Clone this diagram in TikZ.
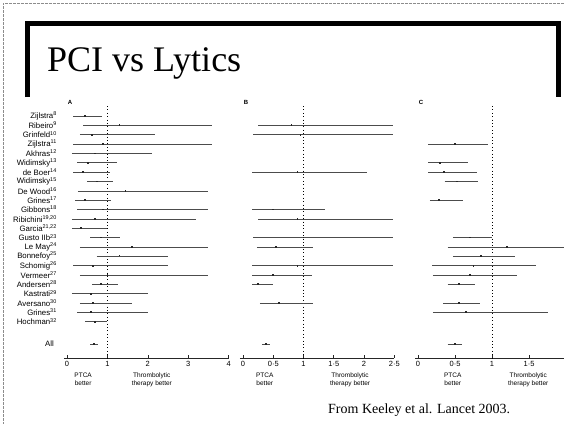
\documentclass[tikz,border=0pt]{standalone}
\usepackage{fontspec}
\setmainfont{Liberation Serif}
\setsansfont{Liberation Sans}
\tikzset{
  title/.style={font=\fontsize{36}{40}\selectfont, inner sep=0pt},
  source/.style={font=\fontsize{14}{16}\selectfont, inner sep=0pt},
  studylbl/.style={font=\sffamily\fontsize{7.8}{8.5}\selectfont, anchor=east, inner sep=0pt},
  panel/.style={font=\sffamily\bfseries\fontsize{6}{6.5}\selectfont, inner sep=0pt},
  ci/.style={black!70, line width=0.6pt},
  est/.style={fill=black!85, inner sep=0pt, minimum size=1.8pt},
  nullline/.style={black, line width=0.6pt, dash pattern=on 0.8pt off 2.6pt},
  axisln/.style={black!85, line width=0.6pt},
  ticklbl/.style={font=\sffamily\fontsize{7.5}{8}\selectfont, anchor=north, inner sep=0pt},
  favour/.style={font=\sffamily\fontsize{6.5}{7.4}\selectfont, align=center, anchor=north, inner sep=0pt},
  scanedge/.style={black!45, line width=0.5pt, dash pattern=on 3pt off 1pt},
}
\begin{document}
\begin{tikzpicture}[x=1pt, y=-1pt]
%\draw[step=20,gray,very thin] (0,0) grid (564,424);
\useasboundingbox (0,0) rectangle (564,424);
\fill[white] (0,0) rectangle (564,424);
\draw[scanedge] (564,3) -- (3,3) -- (3,424);
\draw[line width=5pt] (27.5,97) -- (27.5,23) -- (558.5,23) -- (558.5,97);
\node[title, anchor=base west] (title) at (47,71) {PCI vs Lytics};

% study names
\foreach \i/\nm in {0/{Zijlstra\textsuperscript{8}}, 1/{Ribeiro\textsuperscript{9}},
    2/{Grinfeld\textsuperscript{10}}, 3/{Zijlstra\textsuperscript{11}}, 4/{Akhras\textsuperscript{12}},
    5/{Widimsky\textsuperscript{13}}, 6/{de Boer\textsuperscript{14}}, 7/{Widimsky\textsuperscript{15}},
    8/{De Wood\textsuperscript{16}}, 9/{Grines\textsuperscript{17}}, 10/{Gibbons\textsuperscript{18}},
    11/{Ribichini\textsuperscript{19,20}}, 12/{Garcia\textsuperscript{21,22}}, 13/{Gusto IIb\textsuperscript{23}},
    14/{Le May\textsuperscript{24}}, 15/{Bonnefoy\textsuperscript{25}}, 16/{Schomig\textsuperscript{26}},
    17/{Vermeer\textsuperscript{27}}, 18/{Andersen\textsuperscript{28}}, 19/{Kastrati\textsuperscript{29}},
    20/{Aversano\textsuperscript{30}}, 21/{Grines\textsuperscript{31}}, 22/{Hochman\textsuperscript{32}}} {
  \node[studylbl] (nm\i) at (57,{116+9.35*\i}) {\nm};
}
\node[studylbl] (nmAll) at (54,344) {All};

\node[panel] (pa) at (70,102) {A};
\node[panel] (pb) at (246,102) {B};
\node[panel] (pc) at (421,102) {C};

% panel A
\begin{scope}[xshift=67pt, x=40.4pt]
\draw[axisln] (-0.08,358) -- (4,358);
\foreach \t in {0,...,4} {
  \draw[axisln] (\t,358) -- (\t,355);
  \node[ticklbl] (ta\t) at (\t,361) {\t};
}
\draw[nullline] (1,106) -- (1,358);
\foreach \i/\lo/\pt/\hi in {0/0.15/0.45/0.87, 1/0.40/1.30/3.60, 2/0.32/0.62/2.18,
    3/0.15/0.90/3.60, 4/0.12/0.70/2.10, 5/0.25/0.52/1.24, 6/0.15/0.40/1.06,
    7/0.50/0.75/1.14, 8/0.27/1.45/3.50, 9/0.20/0.45/1.10, 10/0.25/0.90/3.50,
    11/0.12/0.70/3.20, 12/0.12/0.35/1.00, 13/0.57/0.85/1.30, 14/0.32/1.60/3.50,
    15/0.74/1.30/2.50, 16/0.15/0.65/2.50, 17/0.32/1.00/3.50, 18/0.62/0.85/1.26,
    19/0.12/0.60/2.00, 20/0.32/0.65/1.60, 21/0.25/0.60/2.00, 22/0.45/0.70/1.00} {
  \draw[ci] (\lo,{116+9.35*\i}) -- (\hi,{116+9.35*\i});
  \node[est] (ea\i) at (\pt,{116+9.35*\i}) {};
}
\draw[ci, line width=1.4pt] (0.74,256.25) -- (2.5,256.25);
\draw[ci] (0.57,344) -- (0.77,344);
\node[est] (eaAll) at (0.66,344) {};
\node[favour] (fa1) at (0.4,373) {PTCA\\better};
\node[favour] (fa2) at (2.1,373) {Thrombolytic\\therapy better};
\end{scope}

% panel B
\begin{scope}[xshift=243pt, x=60.5pt]
\draw[axisln] (-0.05,358) -- (2.5,358);
\foreach \t/\tl [count=\n] in {0/0, 0.5/0·5, 1/1, 1.5/1·5, 2/2, 2.5/2·5} {
  \draw[axisln] (\t,358) -- (\t,355);
  \node[ticklbl] (tb\n) at (\t,361) {\tl};
}
\draw[nullline] (1,106) -- (1,358);
\foreach \i/\lo/\pt/\hi in {1/0.25/0.80/2.48, 2/0.17/0.95/2.48, 6/0.15/0.90/2.05,
    10/0.15/0.50/1.36, 11/0.25/0.90/2.48, 13/0.17/1.00/2.48, 14/0.23/0.55/1.16,
    16/0.15/0.90/2.48, 17/0.15/0.50/1.14, 18/0.15/0.25/0.50, 20/0.28/0.60/1.16} {
  \draw[ci] (\lo,{116+9.35*\i}) -- (\hi,{116+9.35*\i});
  \node[est] (eb\i) at (\pt,{116+9.35*\i}) {};
}
\draw[ci] (0.31,344) -- (0.45,344);
\node[est] (ebAll) at (0.38,344) {};
\node[favour] (fb1) at (0.36,373) {PTCA\\better};
\node[favour] (fb2) at (1.77,373) {Thrombolytic\\therapy better};
\end{scope}

% panel C
\begin{scope}[xshift=418pt, x=74pt]
\draw[axisln] (-0.04,358) -- (1.98,358);
\foreach \t/\tl [count=\n] in {0/0, 0.5/0·5, 1/1, 1.5/1·5} {
  \draw[axisln] (\t,358) -- (\t,355);
  \node[ticklbl] (tc\n) at (\t,361) {\tl};
}
\draw[nullline] (1,106) -- (1,358);
\foreach \i/\lo/\pt/\hi in {3/0.14/0.50/0.95, 5/0.14/0.30/0.68, 6/0.14/0.35/0.80,
    7/0.36/0.53/0.81, 9/0.16/0.28/0.61, 13/0.47/0.70/1.00, 14/0.40/1.20/1.97,
    15/0.47/0.85/1.31, 16/0.19/0.75/1.60, 17/0.20/0.70/1.34, 18/0.40/0.55/0.77,
    20/0.34/0.55/0.84, 21/0.20/0.65/1.76} {
  \draw[ci] (\lo,{116+9.35*\i}) -- (\hi,{116+9.35*\i});
  \node[est] (ec\i) at (\pt,{116+9.35*\i}) {};
}
\draw[ci] (0.40,344) -- (0.60,344);
\node[est] (ecAll) at (0.50,344) {};
\node[favour] (fc1) at (0.47,373) {PTCA\\better};
\node[favour] (fc2) at (1.49,373) {Thrombolytic\\therapy better};
\end{scope}

\node[source, anchor=base west] (src) at (328,413) {From Keeley et al. Lancet 2003.};
\end{tikzpicture}
\end{document}
